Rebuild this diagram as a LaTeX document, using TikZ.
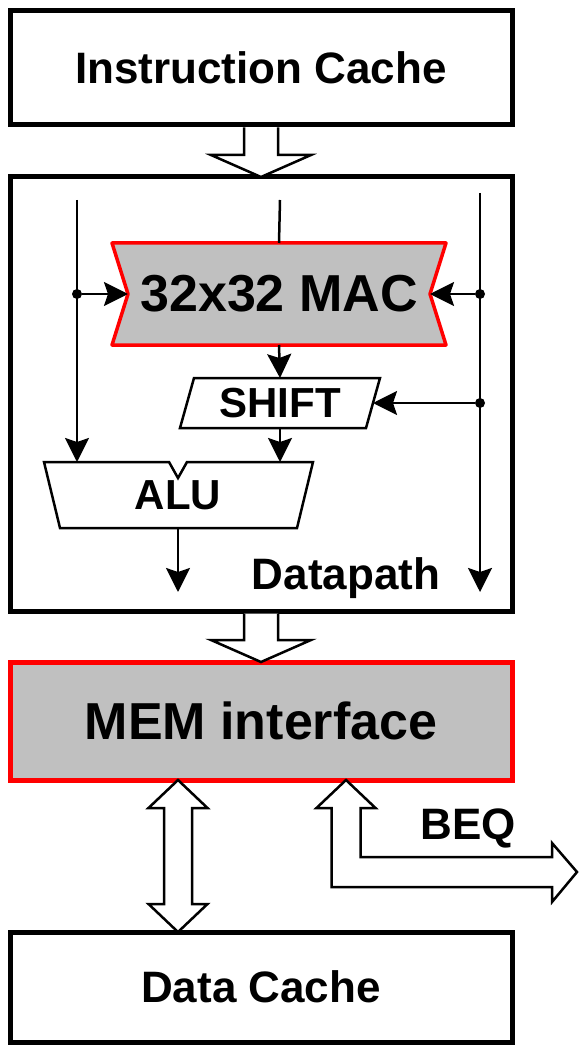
\documentclass[tikz,border=0pt]{standalone}
\usepackage{fontspec}
\setmainfont{Liberation Sans}
\usetikzlibrary{positioning, arrows.meta, calc, backgrounds}
\definecolor{memred}{HTML}{FF0000}
\definecolor{memgray}{HTML}{C0C0C0}

\begin{document}
\begin{tikzpicture}[
  x=1pt, y=-1pt,
  font=\bfseries,
  block/.style={
    draw, line width=5pt, minimum width=502pt, inner sep=0pt, outer sep=0pt,
    font=\bfseries\fontsize{44}{50}\selectfont
  },
  cacheblock/.style={block, fill=white},
  memblock/.style={block, draw=memred, fill=memgray, font=\bfseries\fontsize{52}{58}\selectfont},
  unit/.style={inner sep=0pt, outer sep=0pt, font=\bfseries\fontsize{42}{48}\selectfont},
  unitshape/.style={draw, line width=2.5pt, fill=white, line join=miter},
  macshape/.style={draw=memred, line width=3.5pt, fill=memgray, line join=round},
  wire/.style={line width=2.5pt},
  arrow/.style={wire, -{Stealth[length=24pt, width=24pt, inset=4pt]}},
  junction/.style={circle, fill, inner sep=0pt, minimum size=10pt},
  hollow/.style={draw, line width=2.5pt, fill=white, line join=miter},
  tag/.style={inner sep=0pt, font=\bfseries\fontsize{44}{50}\selectfont},
]
\useasboundingbox (0,0) rectangle (579,1048);

\node[cacheblock, minimum height=114pt] (icache) at (261,68) {Instruction Cache};
\node[block, minimum height=434pt] (core) at (261,394) {};
\node[memblock, minimum height=118pt] (mem) at (261,721) {MEM interface};
\node[cacheblock, minimum height=110pt] (dcache) at (261,987) {Data Cache};

% datapath units
\node[unit, minimum width=302pt, minimum height=102pt, font=\bfseries\fontsize{52}{58}\selectfont] (mac) at (279,294) {32x32 MAC};
\node[unit, minimum width=186pt, minimum height=50pt] (shift) at (280,403) {SHIFT};
\node[unit, minimum width=252pt, minimum height=66pt] (alu) at (178,495) {ALU};
\node[tag] (dplabel) at (346,578) {Datapath};

\begin{scope}[on background layer]
  \draw[macshape] ($(mac.north west)+(-16,0)$) -- ($(mac.north east)+(16,0)$) -- (mac.east)
    -- ($(mac.south east)+(16,0)$) -- ($(mac.south west)+(-16,0)$) -- (mac.west) -- cycle;
  \draw[unitshape] ($(shift.north west)+(7,0)$) -- ($(shift.north east)+(7,0)$)
    -- ($(shift.south east)+(-7,0)$) -- ($(shift.south west)+(-7,0)$) -- cycle;
  \draw[unitshape] ($(alu.north west)+(-8,0)$) -- ($(alu.north)+(-9,0)$) -- ($(alu.north)+(0,16)$)
    -- ($(alu.north)+(9,0)$) -- ($(alu.north east)+(9,0)$) -- ($(alu.south east)+(-7,0)$)
    -- ($(alu.south west)+(8,0)$) -- cycle;
\end{scope}

\coordinate (ltop) at (77,200);
\coordinate (mtop) at (280,200);
\coordinate (rtop) at (480,193);
\coordinate (rbot) at (480,592);
\coordinate (aluout) at (178,592);

\node[junction] (jl) at (ltop |- mac.west) {};
\node[junction] (jr) at (rtop |- mac.east) {};
\node[junction] (js) at (rtop |- shift.east) {};

\draw[arrow] (ltop) -- (ltop |- alu.north);
\draw[wire] (mtop) -- (mac.north);
\draw[arrow] (rtop) -- (rbot);
\draw[arrow] (jl) -- (mac.west);
\draw[arrow] (jr) -- (mac.east);
\draw[arrow] (js) -- (shift.east);
\draw[arrow] (mac.south) -- (shift.north);
\draw[arrow] (shift.south) -- (shift.south |- alu.north);
\draw[arrow] (alu.south) -- (aluout);

% buses
\draw[hollow] ($(icache.south)+(-17,2.5)$) |- ($(core.north)+(-50,-22)$) -- (core.north)
  -- ($(core.north)+(50,-22)$) -| ($(icache.south)+(17,2.5)$);
\draw[hollow] ($(core.south)+(-17,2.5)$) |- ($(mem.north)+(-50,-22)$) -- (mem.north)
  -- ($(mem.north)+(50,-22)$) -| ($(core.south)+(17,2.5)$);

\coordinate (bustop) at ($(mem.south)+(-83,0)$);
\coordinate (busbot) at (dcache.north -| bustop);
\draw[hollow] (bustop) -- ++(29.5,28) -- ++(-15.5,0) -- ($(busbot)+(14,-28)$) -- ++(15.5,0)
  -- (busbot) -- ++(-29.5,-28) -- ++(15.5,0) -- ($(bustop)+(-14,28)$) -- ++(-15.5,0) -- cycle;

\coordinate (beqtop) at ($(mem.south)+(85,0)$);
\coordinate (beqout) at (577,872);
\draw[hollow] (beqtop) -- ++(29.5,28) -- ++(-15,0) |- ($(beqout)+(-25,-15)$) -- ++(0,-14)
  -- (beqout) -- ++(-25,30) -- ++(0,-15) -| ($(beqtop)+(-14.5,28)$) -- ++(-15,0) -- cycle;
\node[tag] (beq) at (468,828) {BEQ};

\end{tikzpicture}
\end{document}
